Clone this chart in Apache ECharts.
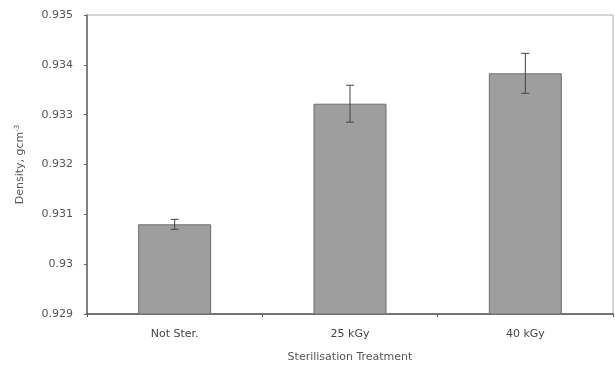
<!DOCTYPE html>
<html><head><meta charset="utf-8">
<script src="https://cdn.jsdelivr.net/npm/echarts@6/dist/echarts.min.js"></script>
<style>html,body{margin:0;padding:0;background:#fff}#c{width:615px;height:368px}</style>
</head><body><div id="c"></div>
<script>
var categories = ['Not Ster.', '25 kGy', '40 kGy'];
var densities = [0.9308, 0.93322, 0.93383];
var errors = [0.0001, 0.00037, 0.0004];
var tickLabels = ['0.929', '0.93', '0.931', '0.932', '0.933', '0.934', '0.935'];

var chart = echarts.init(document.getElementById('c'));
var errData = categories.map(function (c, i) { return [i, densities[i] - errors[i], densities[i] + errors[i]]; });
var FONT = 'DejaVu Sans';
chart.setOption({
  animation: false,
  grid: { left: 87, right: 2, top: 15, bottom: 50, show: true, borderColor: '#aaa', borderWidth: 1 },
  xAxis: {
    type: 'category', data: categories,
    name: 'Sterilisation Treatment', nameLocation: 'middle', nameGap: 38,
    nameTextStyle: { fontFamily: FONT, fontSize: 11, color: '#555' },
    axisLine: { lineStyle: { color: '#555', width: 1.5 } },
    axisTick: { show: true, lineStyle: { color: '#555' }, length: 3 },
    axisLabel: { fontFamily: FONT, fontSize: 11, color: '#444', margin: 15 }
  },
  yAxis: {
    type: 'value', min: 0.929, max: 0.935, interval: 0.001,
    name: 'Density, gcm{sup|-3}', nameLocation: 'middle', nameGap: 60, nameRotate: 90,
    nameTextStyle: { fontFamily: FONT, fontSize: 11, color: '#555',
      rich: { sup: { fontSize: 7, verticalAlign: 'top', color: '#555', fontFamily: FONT, padding: [0,0,6,0] } } },
    axisLine: { show: true, lineStyle: { color: '#666', width: 1.5 } },
    axisTick: { show: true, lineStyle: { color: '#666' }, length: 3 },
    splitLine: { show: false },
    axisLabel: { fontFamily: FONT, fontSize: 11, color: '#555', margin: 14,
      formatter: function (v) { var i = Math.round((v - 0.929) / 0.001); return tickLabels[i]; } }
  },
  series: [{
    type: 'bar', data: densities, barWidth: 73,
    itemStyle: { color: '#9e9e9e', borderColor: '#6e6e6e', borderWidth: 1 }
  }, {
    type: 'custom', data: errData,
    renderItem: function (params, api) {
      var x = api.value(0);
      var lo = api.coord([x, api.value(1)]);
      var hi = api.coord([x, api.value(2)]);
      var w = 4;
      var st = { stroke: '#444', lineWidth: 1 };
      return { type: 'group', children: [
        { type: 'line', shape: { x1: hi[0], y1: hi[1], x2: lo[0], y2: lo[1] }, style: st },
        { type: 'line', shape: { x1: hi[0] - w, y1: hi[1], x2: hi[0] + w, y2: hi[1] }, style: st },
        { type: 'line', shape: { x1: lo[0] - w, y1: lo[1], x2: lo[0] + w, y2: lo[1] }, style: st }
      ] };
    },
    z: 10
  }]
});
</script></body></html>
